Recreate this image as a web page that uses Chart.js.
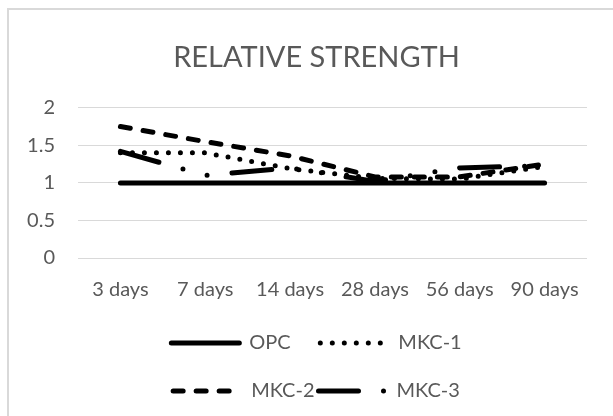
<!DOCTYPE html>
<html><head><meta charset="utf-8">
<script src="https://cdn.jsdelivr.net/npm/chart.js@4.4.0/dist/chart.umd.min.js"></script>
<style>
html,body{margin:0;padding:0;background:#fff;overflow:hidden;width:613px;height:416px;}
#frame{position:absolute;left:7px;top:8px;width:700px;height:500px;border:2px solid #d9d9d9;box-sizing:border-box;}
#wrap{position:absolute;left:0;top:0;width:613px;height:416px;}
</style></head><body>
<div id="frame"></div>
<div id="wrap"><canvas id="c" width="613" height="416"></canvas></div>
<script>
const categories = ['3 days', '7 days', '14 days', '28 days', '56 days', '90 days'];
const seriesNames = ['OPC', 'MKC-1', 'MKC-2', 'MKC-3'];
const opcValues  = [1, 1, 1, 1, 1, 1];
const mkc1Values = [1.40, 1.40, 1.19, 1.06, 1.05, 1.22];
const mkc2Values = [1.75, 1.55, 1.36, 1.08, 1.08, 1.25];
const mkc3Values = [1.42, 1.10, 1.20, 1.02, 1.20, 1.23];
const yTickValues = [0, 0.5, 1, 1.5, 2];
const yTickLabels = ['0', '0.5', '1', '1.5', '2'];
const titleText = 'RELATIVE STRENGTH';

const FONT = 'Lato';
const TEXT = '#595959';
const dashes = [[], [0, 12], [10, 13], [40, 25, 0, 25, 0, 25]];
const values = [opcValues, mkc1Values, mkc2Values, mkc3Values];

const datasets = seriesNames.map((name, i) => ({
  label: name,
  data: values[i],
  yAxisID: 'y',
  borderColor: '#000',
  backgroundColor: '#000',
  borderWidth: 5,
  borderDash: dashes[i],
  borderCapStyle: 'round',
  borderJoinStyle: 'round',
  pointRadius: 0,
  pointHoverRadius: 0,
  tension: 0,
  fill: false
}));

// measure text to column-align legend entries
const mctx = document.createElement('canvas').getContext('2d');
mctx.font = '20px ' + FONT;
function padTo(text, target) {
  let t = text;
  while (mctx.measureText(t).width < target - 1) t += ' ';
  return t;
}
const colWidth = mctx.measureText('MKC-2').width;
let spacer = '';
while (mctx.measureText(spacer).width < 440) spacer += ' ';

Chart.defaults.font.family = FONT;
Chart.defaults.color = TEXT;

new Chart(document.getElementById('c'), {
  type: 'line',
  data: { labels: categories, datasets },
  options: {
    responsive: false,
    animation: false,
    devicePixelRatio: 1,
    layout: { padding: { left: 20, right: 0, top: 0, bottom: 5 } },
    plugins: {
      title: {
        display: true,
        text: titleText,
        color: TEXT,
        font: { family: FONT, size: 29, weight: 'normal' },
        padding: { top: 40, bottom: 33 }
      },
      legend: {
        position: 'bottom',
        labels: {
          usePointStyle: true,
          pointStyleWidth: 68,
          padding: 4,
          font: { family: FONT, size: 20 },
          color: TEXT,
          generateLabels(chart) {
            const items = chart.data.datasets.map((ds, i) => ({
              text: i === 0 ? padTo(ds.label, colWidth) : ds.label,
              fillStyle: '#000',
              strokeStyle: '#000',
              lineWidth: 5,
              lineDash: ds.borderDash,
              lineCap: 'round',
              pointStyle: 'line',
              fontColor: TEXT,
              hidden: false,
              datasetIndex: i
            }));
            items.splice(2, 0, {
              text: spacer,
              fillStyle: 'rgba(0,0,0,0)',
              strokeStyle: 'rgba(0,0,0,0)',
              lineWidth: 0,
              pointStyle: 'line',
              fontColor: 'rgba(0,0,0,0)',
              hidden: false
            });
            return items;
          }
        }
      },
      tooltip: { enabled: false }
    },
    scales: {
      x: {
        offset: true,
        grid: { display: false, drawTicks: false },
        border: { display: false },
        ticks: { color: TEXT, font: { family: FONT, size: 20 }, padding: 20, maxRotation: 0, autoSkip: false },
        afterFit(scale) { scale.height = 71; }
      },
      y: {
        position: 'left',
        min: 0,
        max: 2,
        afterBuildTicks(scale) { scale.ticks = yTickValues.map(v => ({ value: v })); },
        grid: { color: '#d9d9d9', lineWidth: 1, drawTicks: false },
        border: { display: false },
        ticks: {
          color: TEXT,
          font: { family: FONT, size: 20 },
          padding: 23,
          callback(value) {
            const i = yTickValues.indexOf(value);
            return i >= 0 ? yTickLabels[i] : '';
          }
        },
        afterFit(scale) { scale.width = 58; }
      },
      yRight: {
        position: 'right',
        display: true,
        min: 0,
        max: 2,
        grid: { display: false, drawTicks: false },
        border: { display: false },
        ticks: { display: false },
        afterFit(scale) { scale.width = 26; }
      }
    }
  }
});
</script>
</body></html>
